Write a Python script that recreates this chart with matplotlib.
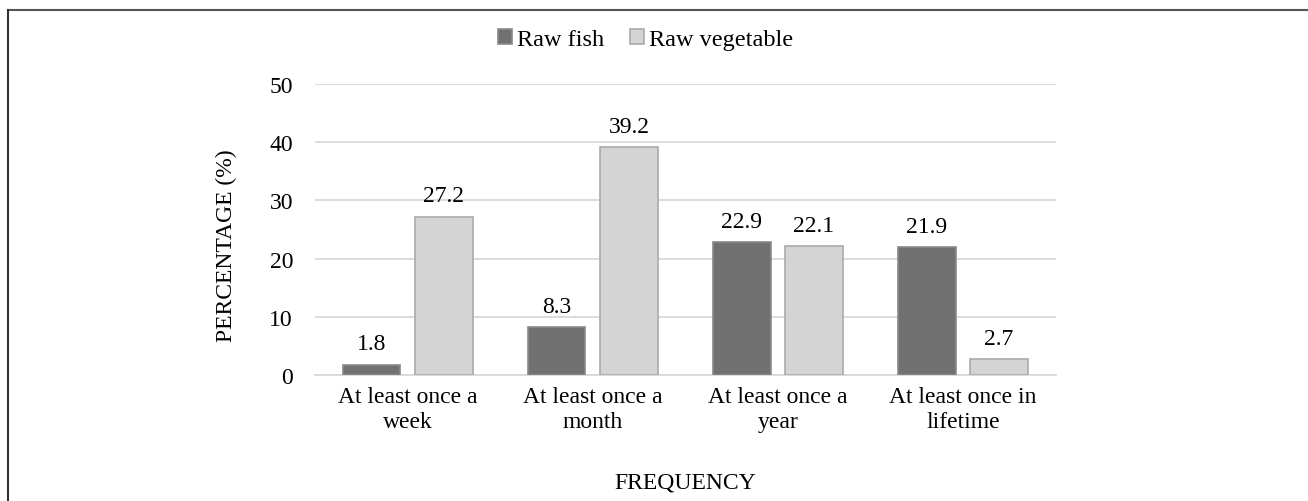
import numpy as np
import matplotlib.pyplot as plt
from matplotlib.lines import Line2D

# data
categories = ["At least once a\nweek", "At least once a\nmonth",
              "At least once a\nyear", "At least once in\nlifetime"]
raw_fish = [1.8, 8.3, 22.9, 21.9]
raw_veg = [27.2, 39.2, 22.1, 2.7]
yticks = [0, 10, 20, 30, 40, 50]

plt.rcParams['font.family'] = ['Liberation Serif', 'DejaVu Serif']
fs = 17

fig = plt.figure(figsize=(13.08, 5.02), dpi=100)
ax = fig.add_axes([0.241, 0.251, 0.566, 0.58])

x = np.arange(len(categories))
w = 0.31
off = 0.195
b1 = ax.bar(x - off, raw_fish, w, color='#717171', edgecolor='#8a8a8a', linewidth=1.2, label='Raw fish', zorder=3)
b2 = ax.bar(x + off, raw_veg, w, color='#d4d4d4', edgecolor='#aaaaaa', linewidth=1.2, label='Raw vegetable', zorder=3)

for bars, vals in ((b1, raw_fish), (b2, raw_veg)):
    for b, v in zip(bars, vals):
        ax.text(b.get_x() + b.get_width() / 2, v + 2.6, f"{v:.1f}",
                ha='center', va='baseline', fontsize=fs)

ax.set_xlim(-0.5, len(categories) - 0.5)
ax.set_ylim(0, 50)
ax.set_yticks(yticks)
ax.yaxis.grid(True, color='#d9d9d9', linewidth=1.3, zorder=0)
ax.set_axisbelow(True)
for s in ('top', 'right', 'left'):
    ax.spines[s].set_visible(False)
ax.spines['bottom'].set_color('#d9d9d9')
ax.spines['bottom'].set_linewidth(1.3)
ax.tick_params(axis='both', length=0, labelsize=fs, pad=8)
ax.tick_params(axis='y', pad=16)
ax.set_xticks(x)
ax.set_xticklabels(categories, fontsize=fs, linespacing=1.25)
ax.set_ylabel("PERCENTAGE (%)", fontsize=fs)
ax.yaxis.set_label_coords(-0.105, 0.447)
ax.set_xlabel("FREQUENCY", fontsize=fs)
ax.xaxis.set_label_coords(0.5, -0.33)

fig.legend(handles=[b1, b2], loc='center', bbox_to_anchor=(0.4935, 0.920), ncol=2,
           frameon=False, fontsize=17.5, handlelength=0.58, handleheight=0.58,
           handletextpad=0.2, columnspacing=1.05)

# outer frame (top and left only)
fig.add_artist(Line2D([0.006, 1.0], [0.978, 0.978], color='#555555', linewidth=1.5, transform=fig.transFigure))
fig.add_artist(Line2D([0.006, 0.006], [0.0, 0.978], color='#333333', linewidth=1.5, transform=fig.transFigure))

fig.savefig("out.png", dpi=100)
